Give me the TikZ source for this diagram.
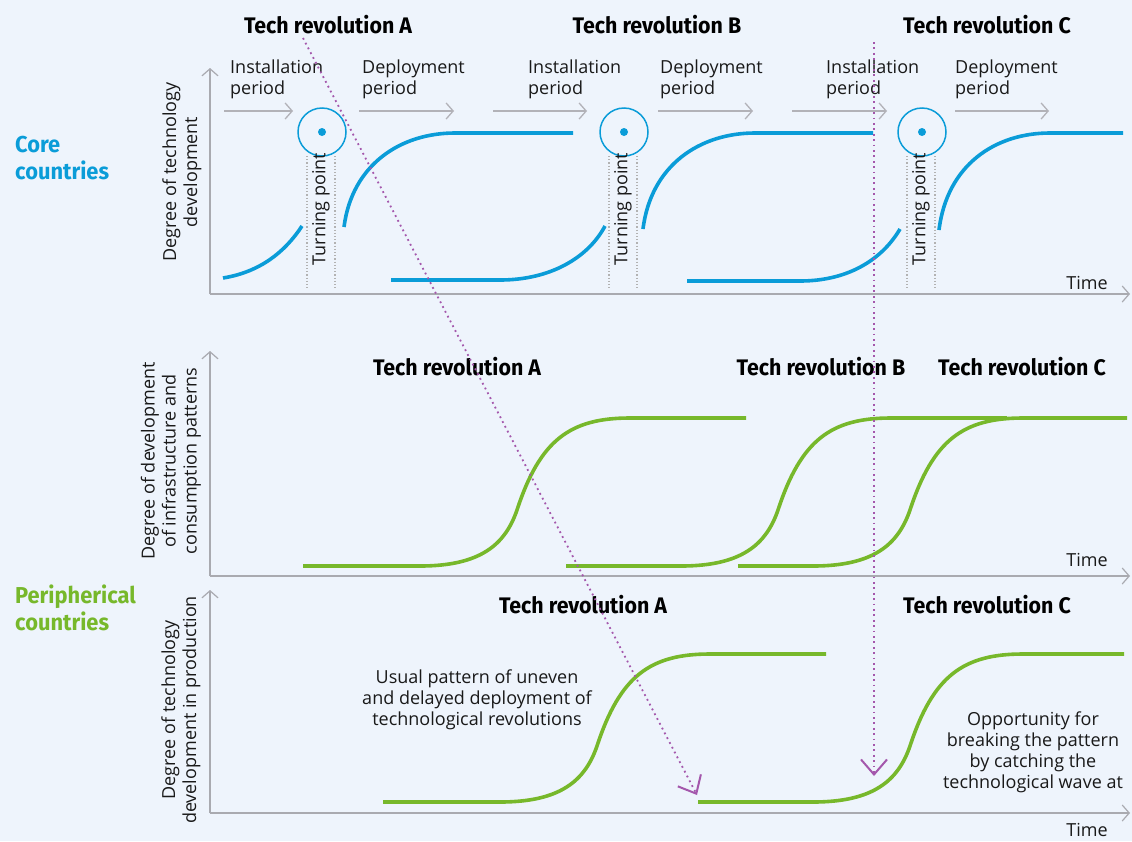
\documentclass[tikz,border=0pt]{standalone}
\usepackage{fontspec}
\setmainfont{Open Sans}
\newfontfamily\headfont[FakeStretch=0.95]{Fira Sans}
\usetikzlibrary{arrows.meta}
\definecolor{bgblue}{HTML}{EEF4FC}
\definecolor{coreblue}{HTML}{0A9CD8}
\definecolor{perigreen}{HTML}{77B82B}
\definecolor{axisgray}{HTML}{A9AAB0}
\definecolor{arrowviolet}{HTML}{A457AC}
\tikzset{
	lbl/.style={font=\fontsize{18}{21}\selectfont, inner sep=0pt, text=black!90},
	head/.style={font=\headfont\bfseries\fontsize{22.5}{26}\selectfont, inner sep=0pt},
	axis/.style={draw=axisgray, line width=1.2pt, -{Straight Barb[length=7pt,width=16pt]}},
	period/.style={draw=axisgray!90, line width=1.3pt, -{Straight Barb[length=7pt,width=16pt]}},
	bluecurve/.style={draw=coreblue, line width=3.6pt},
	greencurve/.style={draw=perigreen, line width=3.6pt},
	turnline/.style={draw=black!30, line width=1.2pt, dash pattern=on 1.2pt off 2pt},
	violetarrow/.style={draw=arrowviolet, line width=1.8pt, dash pattern=on 1.8pt off 3.6pt,
		-{Straight Barb[length=15pt,width=26pt,line width=2pt]}},
}
\begin{document}
\begin{tikzpicture}[x=1pt,y=-1pt]
			\fill[bgblue] (0,0) rectangle (1132,841);
			\useasboundingbox (0,0) rectangle (1132,841);
			% group labels
			\node[head, text=coreblue, anchor=west, align=left, font=\headfont\bfseries\fontsize{23}{27}\selectfont] (core) at (15,158) {Core\\countries};
			\node[head, text=perigreen, anchor=west, align=left, font=\headfont\bfseries\fontsize{23}{27}\selectfont] (peri) at (15,608) {Peripherical\\countries};
			% top panel
			\coordinate (o1) at (210,294);
			\coordinate (y1) at (210,68);
			\coordinate (x1) at (1130,294);
			\draw[axis] (o1) -- (y1);
			\draw[axis] (o1) -- (x1);
			\node[lbl, rotate=90, align=center] (ylab1) at (182,172) {Degree of technology\\development};
			\node[lbl] (time1) at (1087,283) {Time};
			\node[head] (titleA) at (328,25) {Tech revolution A};
			\node[head] (titleB) at (657,25) {Tech revolution B};
			\node[head] (titleC) at (987,25) {Tech revolution C};
			\node[lbl, anchor=north west, align=left] (inst1) at (230,60) {Installation\\period};
			\node[lbl, anchor=north west, align=left] (depl1) at (362,60) {Deployment\\period};
			\node[lbl, anchor=north west, align=left] (inst2) at (528,60) {Installation\\period};
			\node[lbl, anchor=north west, align=left] (depl2) at (660,60) {Deployment\\period};
			\node[lbl, anchor=north west, align=left] (inst3) at (826,60) {Installation\\period};
			\node[lbl, anchor=north west, align=left] (depl3) at (955,60) {Deployment\\period};
			\foreach \a/\b in {224/293, 359/454, 493/587, 658/753, 792/887, 955/1049}
				\draw[period] (\a,111) -- (\b,111);
			\foreach \c [count=\i] in {322,624,922} {
				\draw[turnline] (\c-15,156) -- (\c-15,288);
				\draw[turnline] (\c+13,156) -- (\c+13,288);
				\node[draw=coreblue, line width=1.5pt, circle, minimum size=48pt, inner sep=0pt] (tp\i) at (\c,132) {};
				\fill[coreblue] (tp\i.center) circle (4pt);
				\node[lbl, rotate=90] (tptext\i) at (\c-1,209) {Turning point};
			}
			\draw[bluecurve] (223,278) .. controls (260,272) and (285,252) .. (302,226);
			\draw[bluecurve] (344,227) .. controls (352,165) and (400,133) .. (455,133) -- (573,133);
			\draw[bluecurve] (391,280) -- (500,280) .. controls (550,280) and (588,258) .. (605,226);
			\draw[bluecurve] (643,229) .. controls (651,165) and (700,133) .. (755,133) -- (873,133);
			\draw[bluecurve] (687,281) -- (800,281) .. controls (850,281) and (883,258) .. (900,229);
			\draw[bluecurve] (939,230) .. controls (947,165) and (995,133) .. (1050,133) -- (1123,133);
			% middle panel
			\coordinate (o2) at (210,576);
			\coordinate (y2) at (210,351);
			\coordinate (x2) at (1130,576);
			\draw[axis] (o2) -- (y2);
			\draw[axis] (o2) -- (x2);
			\node[lbl, rotate=90, align=center] (ylab2) at (171,461) {Degree of development\\of infrastructure and\\consumption patterns};
			\node[lbl] (time2) at (1087,560) {Time};
			\node[head] (midA) at (457,367) {Tech revolution A};
			\node[head] (midB) at (821,367) {Tech revolution B};
			\node[head] (midC) at (1022,367) {Tech revolution C};
			\draw[greencurve] (303,566) -- (420,566) .. controls (480,566) and (505,545) .. (517,510) .. controls (540,440) and (570,418) .. (630,418) -- (746,418);
			\draw[greencurve] (566,566) -- (681,566) .. controls (741,566) and (766,545) .. (778,510) .. controls (801,440) and (831,418) .. (891,418) -- (1007,418);
			\draw[greencurve] (738,566) -- (813,566) .. controls (873,566) and (898,545) .. (910,510) .. controls (933,440) and (963,418) .. (1023,418) -- (1127,418);
			% bottom panel
			\coordinate (o3) at (210,813);
			\coordinate (y3) at (210,590);
			\coordinate (x3) at (1130,813);
			\draw[axis] (o3) -- (y3);
			\draw[axis] (o3) -- (x3);
			\node[lbl, rotate=90, align=center] (ylab3) at (181,710) {Degree of technology\\development in production};
			\node[lbl] (time3) at (1087,830) {Time};
			\node[head] (lowA) at (583,605) {Tech revolution A};
			\node[head] (lowC) at (987,605) {Tech revolution C};
			\draw[greencurve] (383,802) -- (500,802) .. controls (560,802) and (585,781) .. (597,746) .. controls (620,676) and (650,654) .. (710,654) -- (826,654);
			\draw[greencurve] (698,802) -- (813,802) .. controls (873,802) and (898,781) .. (910,746) .. controls (933,676) and (963,654) .. (1023,654) -- (1124,654);
			\node[lbl, align=center] (usual) at (477,700) {Usual pattern of uneven\\and delayed deployment of\\technological revolutions};
			\node[lbl, align=center] (chance) at (1033,752) {Opportunity for\\breaking the pattern\\by catching the\\technological wave at};
			% catch-up arrows
			\coordinate (diagstart) at (303,38);
			\coordinate (diagend) at (697,795);
			\coordinate (vertstart) at (874,42);
			\coordinate (vertend) at (874,776);
			\draw[violetarrow] (diagstart) -- (diagend);
			\draw[violetarrow] (vertstart) -- (vertend);
			\end{tikzpicture}
\end{document}
